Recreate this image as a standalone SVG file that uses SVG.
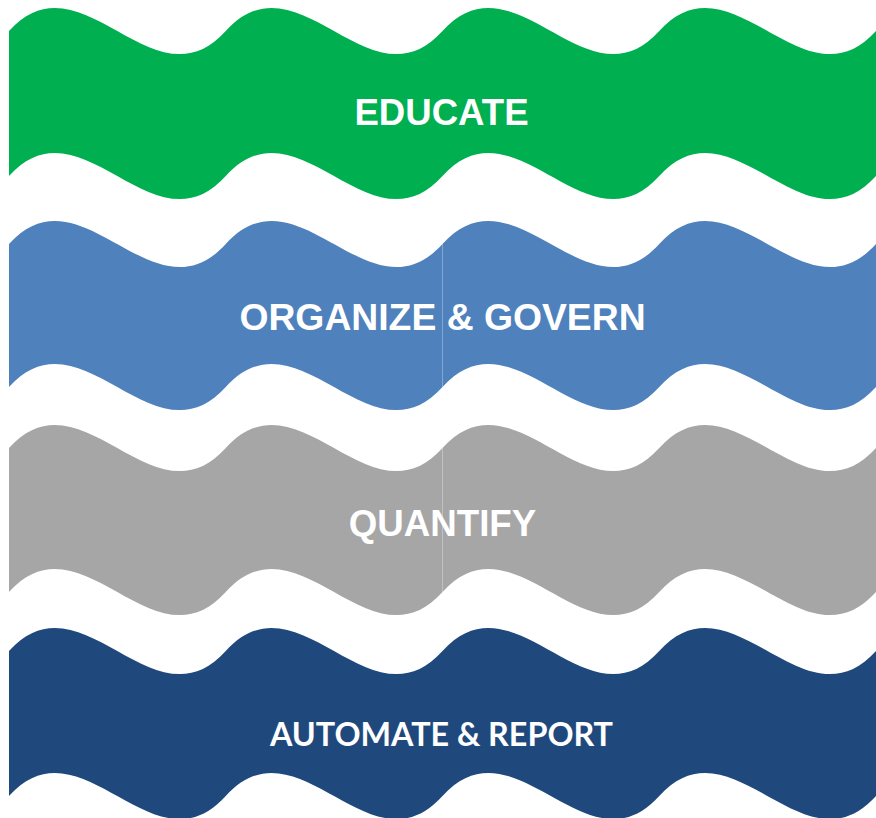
<svg xmlns="http://www.w3.org/2000/svg" xmlns:xlink="http://www.w3.org/1999/xlink" width="876" height="818" viewBox="0 0 876 818">
<style>
.lbl{fill:#ffffff;font-family:"Liberation Sans",Arial,sans-serif;font-weight:bold;text-anchor:middle}
.lbl2{fill:#ffffff;font-family:Lato,"Open Sans",sans-serif;font-weight:bold;text-anchor:middle}
.seam{stroke:#ffffff;stroke-opacity:0.3;stroke-width:1}
</style>
<rect width="876" height="818" fill="#ffffff"/>
<g id="educate" transform="translate(0,31)">
<path fill="#00B050" d="M9,0 C81.25,-80 153.5,80 225.75,0 C298,-80 370.25,80 442.5,0 C514.75,-80 587,80 659.25,0 C731.5,-80 803.75,80 876,0 L876,145 C803.75,225 731.5,65 659.25,145 C587,225 514.75,65 442.5,145 C370.25,225 298,65 225.75,145 C153.5,225 81.25,65 9,145 Z"/>
<text class="lbl" x="441.5" y="93.5" font-size="36.6">EDUCATE</text>
</g>
<g id="organize" transform="translate(0,244)">
<path fill="#4F81BD" d="M9,0 C81.25,-80 153.5,80 225.75,0 C298,-80 370.25,80 442.5,0 C514.75,-80 587,80 659.25,0 C731.5,-80 803.75,80 876,0 L876,143 C803.75,223 731.5,63 659.25,143 C587,223 514.75,63 442.5,143 C370.25,223 298,63 225.75,143 C153.5,223 81.25,63 9,143 Z"/>
<line class="seam" x1="442.5" y1="0" x2="442.5" y2="143"/>
<text class="lbl" x="442.5" y="85.5" font-size="37.3">ORGANIZE &amp; GOVERN</text>
</g>
<g id="quantify" transform="translate(0,448)">
<path fill="#A6A6A6" d="M9,0 C81.25,-80 153.5,80 225.75,0 C298,-80 370.25,80 442.5,0 C514.75,-80 587,80 659.25,0 C731.5,-80 803.75,80 876,0 L876,144 C803.75,224 731.5,64 659.25,144 C587,224 514.75,64 442.5,144 C370.25,224 298,64 225.75,144 C153.5,224 81.25,64 9,144 Z"/>
<line class="seam" x1="442.5" y1="0" x2="442.5" y2="144"/>
<text class="lbl" x="442.5" y="87.5" font-size="36.7">QUANTIFY</text>
</g>
<g id="automate" transform="translate(0,651)">
<path fill="#1F497D" d="M9,0 C81.25,-80 153.5,80 225.75,0 C298,-80 370.25,80 442.5,0 C514.75,-80 587,80 659.25,0 C731.5,-80 803.75,80 876,0 L876,145 C803.75,225 731.5,65 659.25,145 C587,225 514.75,65 442.5,145 C370.25,225 298,65 225.75,145 C153.5,225 81.25,65 9,145 Z"/>
<text class="lbl2" x="441.5" y="95" font-size="33" textLength="343" lengthAdjust="spacingAndGlyphs">AUTOMATE &amp; REPORT</text>
</g>
</svg>
